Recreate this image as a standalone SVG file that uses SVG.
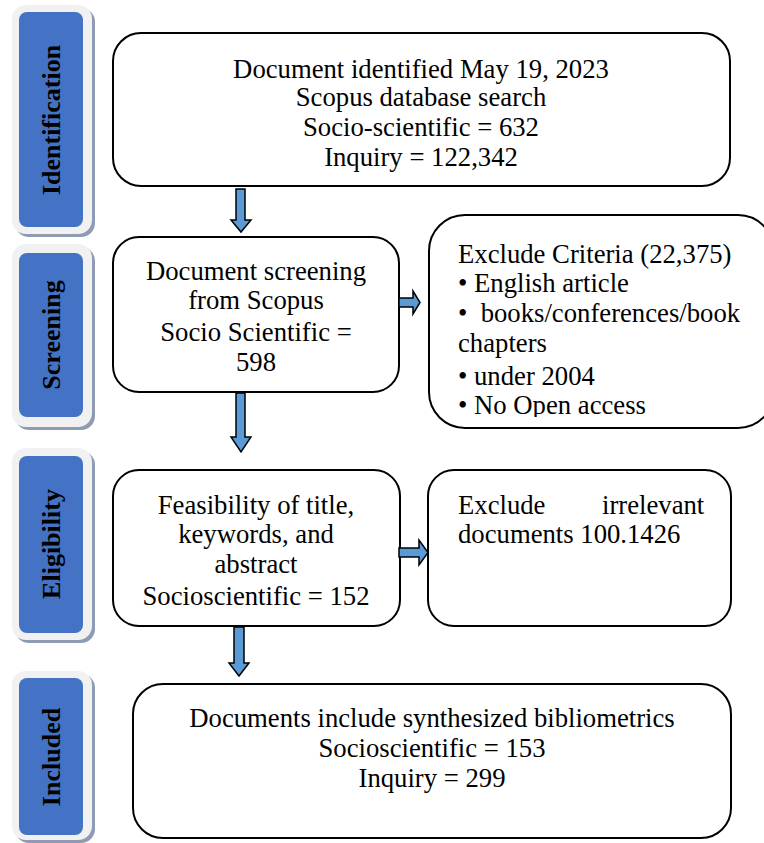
<svg xmlns="http://www.w3.org/2000/svg" width="764" height="843" viewBox="0 0 764 843">
<style>
.t{font-family:"Liberation Serif","Times New Roman",serif;font-size:26.7px;fill:#000}
.c{text-anchor:middle}
.stage{font-family:"Liberation Serif","Times New Roman",serif;font-size:26px;font-weight:bold;fill:#000;text-anchor:middle}
.box{fill:#fff;stroke:#000;stroke-width:2}
.outer{fill:#f1f1f1}
.shadow{fill:#8e9bb3}
.inner{fill:#4472c4}
.arr{fill:#5b9bd5;stroke:#000;stroke-width:1.5;stroke-linejoin:miter}
</style>
<defs>
<clipPath id="clip3"><rect x="428" y="215" width="336" height="202"/></clipPath>
</defs>
<rect width="764" height="843" fill="#fff"/>

<g id="stage-identification">
<rect class="shadow" x="15" y="8" width="80" height="229" rx="14"/>
<rect class="outer" x="12" y="5" width="80" height="229" rx="14"/>
<rect class="inner" x="19" y="12" width="64" height="215" rx="8"/>
<text class="stage" transform="translate(60,120) rotate(-90)">Identification</text>
</g>
<g id="stage-screening">
<rect class="shadow" x="15" y="247" width="80" height="183" rx="14"/>
<rect class="outer" x="12" y="244" width="80" height="183" rx="14"/>
<rect class="inner" x="19" y="253" width="64" height="164" rx="8"/>
<text class="stage" transform="translate(60,335) rotate(-90)">Screening</text>
</g>
<g id="stage-eligibility">
<rect class="shadow" x="15" y="451" width="80" height="192" rx="14"/>
<rect class="outer" x="12" y="448" width="80" height="192" rx="14"/>
<rect class="inner" x="19" y="456" width="64" height="177" rx="8"/>
<text class="stage" transform="translate(60,544) rotate(-90)">Eligibility</text>
</g>
<g id="stage-included">
<rect class="shadow" x="15" y="674" width="80" height="169" rx="14"/>
<rect class="outer" x="12" y="671" width="80" height="169" rx="14"/>
<rect class="inner" x="19" y="678" width="64" height="157" rx="8"/>
<text class="stage" transform="translate(60,757) rotate(-90)">Included</text>
</g>

<g id="node-identified">
<rect class="box" x="113" y="33" width="617" height="153" rx="28"/>
<text class="t c" x="421" y="78">Document identified May 19, 2023</text>
<text class="t c" x="421" y="106">Scopus database search</text>
<text class="t c" x="421" y="136">Socio-scientific = 632</text>
<text class="t c" x="421" y="166">Inquiry = 122,342</text>
</g>

<g id="node-screening">
<rect class="box" x="113" y="237" width="286" height="155" rx="26"/>
<text class="t c" x="256" y="280">Document screening</text>
<text class="t c" x="256" y="309">from Scopus</text>
<text class="t c" x="256" y="341">Socio Scientific =</text>
<text class="t c" x="256" y="371">598</text>
</g>

<g id="node-exclude-criteria">
<rect class="box" x="429" y="215" width="345" height="213" rx="36"/>
<g clip-path="url(#clip3)">
<text class="t" x="458" y="263">Exclude Criteria (22,375)</text>
<text class="t" x="458" y="292">• English article</text>
<text class="t" x="458" y="322" xml:space="preserve">•  books/conferences/book</text>
<text class="t" x="458" y="352">chapters</text>
<text class="t" x="458" y="385">• under 2004</text>
<text class="t" x="458" y="414">• No Open access</text>
</g>
</g>

<g id="node-feasibility">
<rect class="box" x="113" y="470" width="287" height="156" rx="26"/>
<text class="t c" x="256" y="514">Feasibility of title,</text>
<text class="t c" x="256" y="543">keywords, and</text>
<text class="t c" x="256" y="573">abstract</text>
<text class="t c" x="256" y="605">Socioscientific = 152</text>
</g>

<g id="node-exclude-irrelevant">
<rect class="box" x="428" y="470" width="303" height="156" rx="26"/>
<text class="t" y="514"><tspan x="458">Exclude</tspan><tspan x="602">irrelevant</tspan></text>
<text class="t" x="458" y="543">documents 100.1426</text>
</g>

<g id="node-included">
<rect class="box" x="133" y="684" width="598" height="154" rx="30"/>
<text class="t c" x="432" y="727">Documents include synthesized bibliometrics</text>
<text class="t c" x="432" y="757">Socioscientific = 153</text>
<text class="t c" x="432" y="787">Inquiry = 299</text>
</g>

<g id="connectors">
<polygon class="arr" points="236,189 245,189 245,220 251,220 241,232 231,220 236,220"/>
<polygon class="arr" points="236,393 245,393 245,437 251,437 241,452 231,437 236,437"/>
<polygon class="arr" points="234,627 244,627 244,663 249,663 239,676 229,663 234,663"/>
<polygon class="arr" points="399,298 413,298 413,291 420,302.5 413,314 413,307 399,307"/>
<polygon class="arr" points="399,548 419,548 419,540 428,552.5 419,565 419,557 399,557"/>
</g>
</svg>
